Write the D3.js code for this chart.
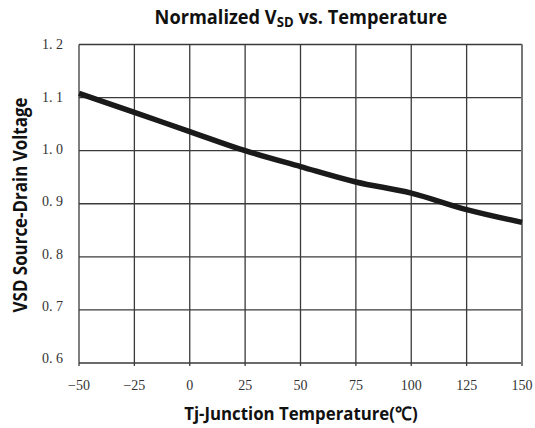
<!DOCTYPE html>
<html>
<head>
<meta charset="utf-8">
<script src="https://cdn.jsdelivr.net/npm/d3@7"></script>
<style>
  html, body { margin: 0; padding: 0; background: #fff; }
  svg { display: block; }
</style>
</head>
<body>
<svg id="chart" width="535" height="428"></svg>
<script>
// Junction temperature (°C) and normalized source-drain voltage
const temperature = [-50, -25, 0, 25, 50, 75, 100, 125, 150];
const vsdNormalized = [1.108, 1.072, 1.036, 1.0, 0.970, 0.941, 0.920, 0.889, 0.865];

const xTicks = [-50, -25, 0, 25, 50, 75, 100, 125, 150];
const yTicks = [0.6, 0.7, 0.8, 0.9, 1.0, 1.1, 1.2];

const svg = d3.select("#chart");
const margin = { left: 79, right: 13, top: 44.5, bottom: 65 };
const W = 535, H = 428;

const x = d3.scaleLinear().domain([-50, 150]).range([margin.left, W - margin.right]);
const y = d3.scaleLinear().domain([0.6, 1.2]).range([H - margin.bottom, margin.top]);

const gridColor = "#3a3a3a";
const tickFont = "'Liberation Serif', 'DejaVu Serif', serif";
const boldFont = "'Open Sans', Lato, sans-serif";

// place a bold label at (tx, ty) with optional rotation, squeezed horizontally to a target width
function condensedLabel(tx, ty, angle, size, width, build) {
  const g = svg.append("g");
  const t = g.append("text")
    .attr("text-anchor", "middle")
    .attr("font-family", boldFont)
    .attr("font-weight", "bold")
    .attr("font-size", size)
    .attr("fill", "#111");
  build(t);
  const w = t.node().getComputedTextLength();
  const sx = w > 0 ? width / w : 1;
  g.attr("transform", `translate(${tx},${ty}) rotate(${angle}) scale(${sx.toFixed(4)},1)`);
  return t;
}

// vertical grid lines (with a short stub below the frame)
svg.append("g")
  .selectAll("line")
  .data(xTicks)
  .join("line")
  .attr("x1", d => x(d)).attr("x2", d => x(d))
  .attr("y1", y(1.2)).attr("y2", y(0.6) + 3)
  .attr("stroke", gridColor)
  .attr("stroke-width", 1.3);

// horizontal grid lines
svg.append("g")
  .selectAll("line")
  .data(yTicks)
  .join("line")
  .attr("x1", x(-50)).attr("x2", x(150))
  .attr("y1", d => y(d)).attr("y2", d => y(d))
  .attr("stroke", gridColor)
  .attr("stroke-width", 1.3);

// right edge of the frame is a bit lighter and heavier
svg.append("line")
  .attr("x1", x(150)).attr("x2", x(150))
  .attr("y1", y(1.2)).attr("y2", y(0.6) + 3)
  .attr("stroke", "#777")
  .attr("stroke-width", 2);

// x tick labels
const fmtX = d => d < 0 ? "\u2212" + Math.abs(d) : String(d);
svg.append("g")
  .selectAll("text")
  .data(xTicks)
  .join("text")
  .attr("x", d => x(d))
  .attr("y", y(0.6) + 27)
  .attr("text-anchor", "middle")
  .attr("font-family", tickFont)
  .attr("font-size", 14)
  .attr("fill", "#333")
  .text(fmtX);

// y tick labels
const fmtY = d => d3.format(".1f")(d).replace(".", ". ");
svg.append("g")
  .selectAll("text")
  .data(yTicks)
  .join("text")
  .attr("x", 63)
  .attr("y", d => y(d) - (d < 1.15 ? (1.2 - d) * 8 : 0))
  .attr("dy", "0.35em")
  .attr("text-anchor", "end")
  .attr("font-family", tickFont)
  .attr("font-size", 14)
  .attr("fill", "#333")
  .attr("xml:space", "preserve")
  .style("white-space", "pre")
  .text(fmtY);

// data curve
const line = d3.line()
  .x((d, i) => x(temperature[i]))
  .y(d => y(d))
  .curve(d3.curveMonotoneX);

svg.append("path")
  .datum(vsdNormalized)
  .attr("d", line)
  .attr("fill", "none")
  .attr("stroke", "#1a1a1a")
  .attr("stroke-width", 5.5)
  .attr("stroke-linecap", "butt")
  .attr("stroke-linejoin", "round");

// title with subscript
condensedLabel(301, 24, 0, 19.5, 293, t => {
  t.append("tspan").text("Normalized V");
  t.append("tspan").attr("font-size", "0.72em").attr("dy", 3).text("SD");
  t.append("tspan").attr("dy", -3).text(" vs. Temperature");
});

// x axis title
condensedLabel(301, 420, 0, 18.5, 233, t => t.text("Tj-Junction Temperature(\u2103)"));

// y axis title
condensedLabel(27, 205, -90, 19, 215, t => t.text("VSD Source-Drain Voltage"));
</script>
</body>
</html>
